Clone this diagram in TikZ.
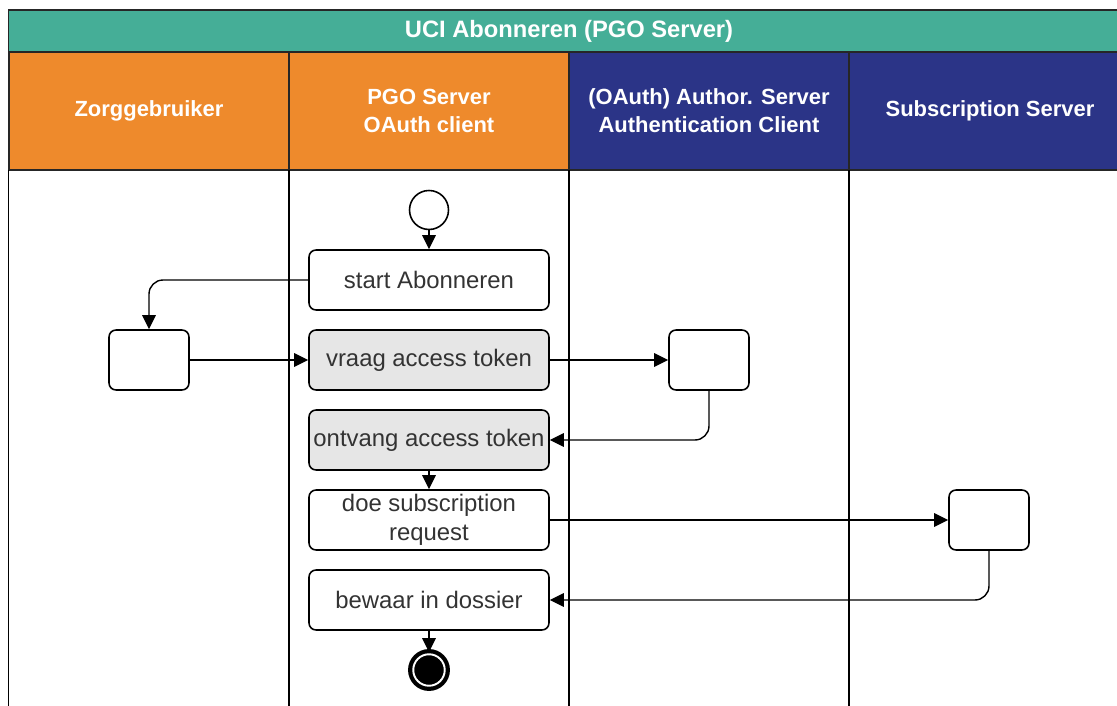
\documentclass[tikz,border=0pt]{standalone}
\usepackage{fontspec}
\setmainfont{Liberation Sans}
\usetikzlibrary{arrows.meta}
\definecolor{pooltitle}{HTML}{45AE97}
\definecolor{clientlane}{HTML}{EE8A2C}
\definecolor{serverlane}{HTML}{2B3487}
\definecolor{actgray}{HTML}{E6E6E6}
\begin{document}
\begin{tikzpicture}[x=0.02cm,y=-0.02cm,
 every node/.style={font=\fontsize{13.6}{16.3}\selectfont},
 act/.style={draw,line width=0.9pt,rounded corners=4pt,minimum width=4.8cm,minimum height=1.2cm,inner sep=0pt,align=center,text=black!80},
 ext/.style={act,minimum width=1.6cm},
 hdr/.style={draw=black!85,line width=0.8pt,text=white,align=center,inner sep=0pt,minimum height=2.36cm,minimum width=5.6cm,
  font=\bfseries\fontsize{12.5}{16}\selectfont},
 lane/.style={line width=0.8pt},
 arr/.style={-{Triangle[length=0.28cm,width=0.27cm]},line width=0.8pt,rounded corners=8pt}]
\useasboundingbox (0,0) rectangle (1117,706);
% pool and lanes
\node[hdr,fill=pooltitle,minimum width=22.4cm,minimum height=0.84cm,font=\bfseries\fontsize{13.5}{16}\selectfont] (pool) at (568.5,31) {};
\node[text=white,font=\bfseries\fontsize{13.5}{16}\selectfont] (pooltext) at (569,31) {UCI Abonneren (PGO Server)};
\node[hdr,fill=clientlane] (zorglane) at (149,111) {Zorggebruiker};
\node[hdr,fill=clientlane] (pgolane) at (429,111) {PGO Server\\OAuth client};
\node[hdr,fill=serverlane] (authlane) at (709,111) {(OAuth) Author. Server\\Authentication Client};
\node[hdr,fill=serverlane,minimum width=5.7cm] (sublane) at (991.5,111) {};
\node[text=white,font=\bfseries\fontsize{12.5}{16}\selectfont] (subtext) at (990,111) {Subscription Server};
\draw[lane] (8.5,170) -- (8.5,706);
\draw[lane] (289,170) -- (289,706);
\draw[lane] (569,170) -- (569,706);
\draw[lane] (849,170) -- (849,706);
% activities
\node[circle,draw,line width=0.9pt,minimum size=0.78cm,inner sep=0pt] (start) at (429,210) {};
\node[act] (startab) at (429,280) {start Abonneren};
\node[act,fill=actgray] (vraag) at (429,360) {vraag access token};
\node[act,fill=actgray] (ontvang) at (429,440) {ontvang access token};
\node[act] (doe) at (429,520) {doe subscription\\request};
\node[act] (bewaar) at (429,600) {bewaar in dossier};
\node[circle,fill=black,draw=black,double=white,double distance=1.1pt,line width=2.4pt,minimum size=0.63cm,inner sep=0pt] (end) at (429,670) {};
\node[ext] (zorg) at (149,360) {};
\node[ext] (auth) at (709,360) {};
\node[ext] (sub) at (989,520) {};
% flow
\draw[arr] (start) -- (startab);
\draw[arr] (startab.west) -| (zorg.north);
\draw[arr] (zorg) -- (vraag);
\draw[arr] (vraag) -- (auth);
\draw[arr] (auth.south) |- (ontvang.east);
\draw[arr] (ontvang) -- (doe);
\draw[arr] (doe) -- (sub);
\draw[arr] (sub.south) |- (bewaar.east);
\draw[arr] (bewaar) -- (end);
\end{tikzpicture}
\end{document}
